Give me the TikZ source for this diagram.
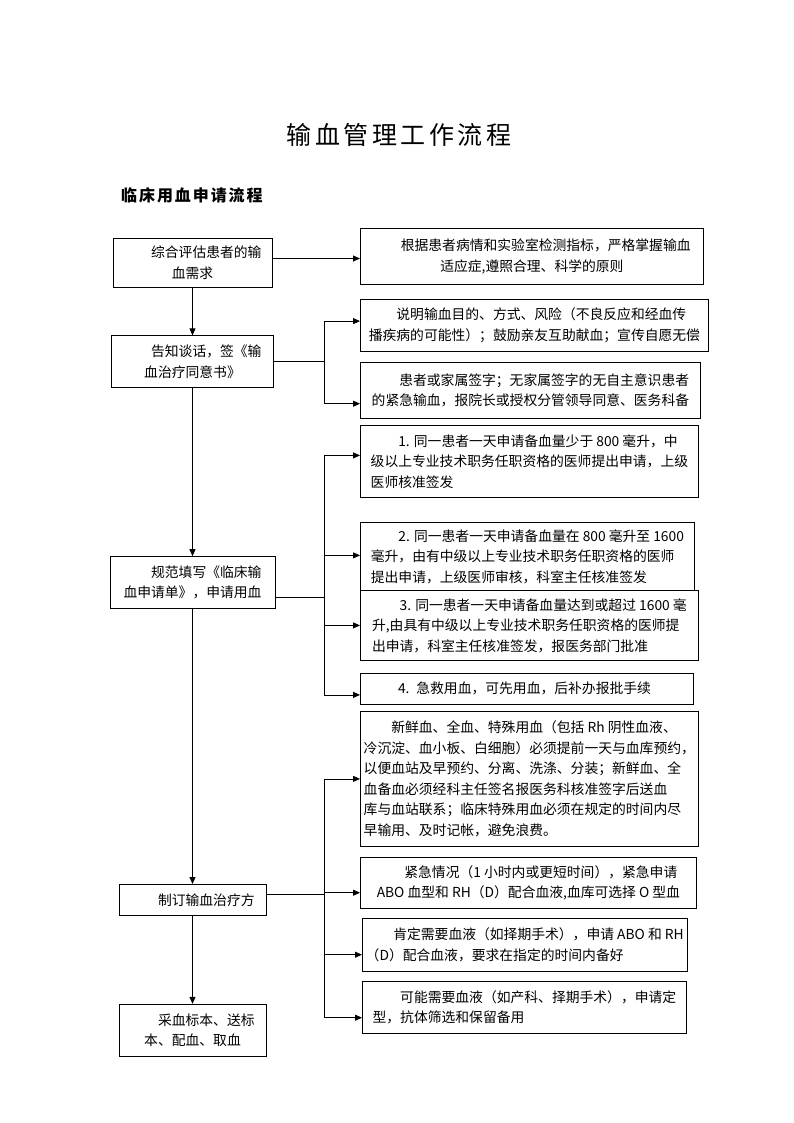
\documentclass[tikz,border=0pt]{standalone}
\usepackage{fontspec}
\newfontfamily\cjk{Noto Sans CJK SC}
\newfontfamily\cjktitle[LetterSpace=14]{Noto Sans CJK SC}
\newfontfamily\cjkhead[LetterSpace=12]{Noto Sans CJK SC}
\usetikzlibrary{arrows.meta, positioning}
\tikzstyle{mainstep} = [rectangle, draw=black, fill=white, line width=0.8pt, align=center, font={\cjk\fontsize{13.8pt}{20.5pt}\selectfont}]
\tikzstyle{note} = [rectangle, anchor=north west, draw=black, fill=white, line width=0.8pt, align=left, font={\cjk\fontsize{13.8pt}{20.5pt}\selectfont}]
\tikzstyle{arrow} = [line width=0.8pt, ->, >={Triangle[length=7pt, width=6pt]}]
\tikzstyle{link} = [line width=0.8pt]
\newcommand{\firstind}{\hspace*{2em}}

\begin{document}
\begin{tikzpicture}[x=1pt, y=-1pt]
\useasboundingbox (0,0) rectangle (794,1123);

% Titles
\node (title) at (399,135) {\cjktitle\fontsize{25pt}{30pt}\selectfont 输血管理工作流程};
\node[anchor=west, inner sep=0pt] (subtitle) at (121,195) {\cjkhead\bfseries\fontsize{16pt}{20pt}\selectfont 临床用血申请流程};

% Main steps
\node[mainstep, minimum width=159pt, minimum height=49pt] (assess) at (192.5,262.5) {\firstind 综合评估患者的输\\血需求};
\node[mainstep, below=48pt of assess, minimum width=162pt, minimum height=52pt] (consent) {\firstind 告知谈话，签《输\\血治疗同意书》};
\node[mainstep, below=168pt of consent, minimum width=165pt, minimum height=52pt] (request) {\firstind 规范填写《临床输\\血申请单》，申请用血};
\node[mainstep, below=275pt of request, minimum width=147pt, minimum height=31pt] (plan) {\firstind 制订输血治疗方};
\node[mainstep, below=88pt of plan, minimum width=147pt, minimum height=52pt] (sample) {\firstind 采血标本、送标\\本、配血、取血};

% Notes
\node[note, align=center, minimum width=343pt, minimum height=56pt] (basis) at (360,228) {\firstind 根据患者病情和实验室检测指标，严格掌握输血\\适应症,遵照合理、科学的原则};
\node[note, minimum width=348pt, minimum height=52pt] (inform) at (360,299) {\firstind 说明输血目的、方式、风险（不良反应和经血传\\播疾病的可能性）；鼓励亲友互助献血；宣传自愿无偿};
\node[note, minimum width=340pt, minimum height=56pt] (signature) at (360,362) {\firstind 患者或家属签字；无家属签字的无自主意识患者\\的紧急输血，报院长或授权分管领导同意、医务科备};
\node[note, minimum width=338pt, minimum height=72pt] (rulea) at (360,425) {\firstind 1. 同一患者一天申请备血量少于 800 毫升，中\\级以上专业技术职务任职资格的医师提出申请，上级\\医师核准签发};
\node[note, minimum width=334pt, minimum height=68pt] (ruleb) at (360,522) {\firstind 2. 同一患者一天申请备血量在 800 毫升至 1600\\毫升，由有中级以上专业技术职务任职资格的医师\\提出申请，上级医师审核，科室主任核准签发};
\node[note, minimum width=338pt, minimum height=70pt] (rulec) at (360,590) {\firstind 3. 同一患者一天申请备血量达到或超过 1600 毫\\升,由具有中级以上专业技术职务任职资格的医师提\\出申请，科室主任核准签发，报医务部门批准};
\node[note, inner xsep=10pt, text width=313pt, minimum height=31pt] (ruled) at (360,673) {\firstind 4. 急救用血，可先用血，后补办报批手续};
\node[note, minimum width=336pt, minimum height=135pt] (fresh) at (360,711) {\firstind 新鲜血、全血、特殊用血（包括 Rh 阴性血液、\\冷沉淀、血小板、白细胞）必须提前一天与血库预约，\\以便血站及早预约、分离、洗涤、分装；新鲜血、全\\血备血必须经科主任签名报医务科核准签字后送血\\库与血站联系；临床特殊用血必须在规定的时间内尽\\早输用、及时记帐，避免浪费。};
\node[note, minimum width=336pt, minimum height=51pt] (urgent) at (360,857) {\firstind 紧急情况（1 小时内或更短时间），紧急申请\\ABO 血型和 RH（D）配合血液,血库可选择 O 型血};
\node[note, minimum width=324pt, minimum height=53pt] (elective) at (362,918) {\firstind 肯定需要血液（如择期手术），申请 ABO 和 RH\\（D）配合血液，要求在指定的时间内备好};
\node[note, minimum width=324pt, minimum height=52pt] (possible) at (362,981) {\firstind 可能需要血液（如产科、择期手术），申请定\\型，抗体筛选和保留备用};

% Branch points
\coordinate (spine) at (324.5,0);
\coordinate (obasis) at ([yshift=4pt]assess.east);
\coordinate (orequest) at ([yshift=-14.3pt]request.east);
\coordinate (oplan) at ([yshift=5.2pt]plan.east);

% Arrows
\draw[arrow] (assess) -- (consent);
\draw[arrow] (consent) -- (request);
\draw[arrow] (request) -- (plan);
\draw[arrow] (plan) -- (sample);
\draw[arrow] (obasis) -- (obasis -| basis.west);
\draw[link] (consent.east) -- (consent.east -| spine) coordinate (jconsent);
\draw[arrow] (jconsent) |- ([yshift=4.3pt]inform.west);
\draw[arrow] (jconsent) |- ([yshift=-13.3pt]signature.west);
\draw[link] (orequest) -- (orequest -| spine) coordinate (jrequest);
\draw[arrow] (jrequest) |- ([yshift=6pt]rulea.west);
\draw[arrow] (jrequest) |- ([yshift=1pt]ruleb.west);
\draw[arrow] (jrequest) |- (rulec.west);
\draw[arrow] (jrequest) |- ([yshift=-6pt]ruled.west);
\draw[link] (oplan) -- (oplan -| spine) coordinate (jplan);
\draw[arrow] (jplan) |- (fresh.west);
\draw[arrow] (jplan) |- ([yshift=-9.8pt]urgent.west);
\draw[arrow] (jplan) |- ([yshift=-9.8pt]elective.west);
\draw[arrow] (jplan) |- ([yshift=-10.3pt]possible.west);

\end{tikzpicture}
\end{document}
